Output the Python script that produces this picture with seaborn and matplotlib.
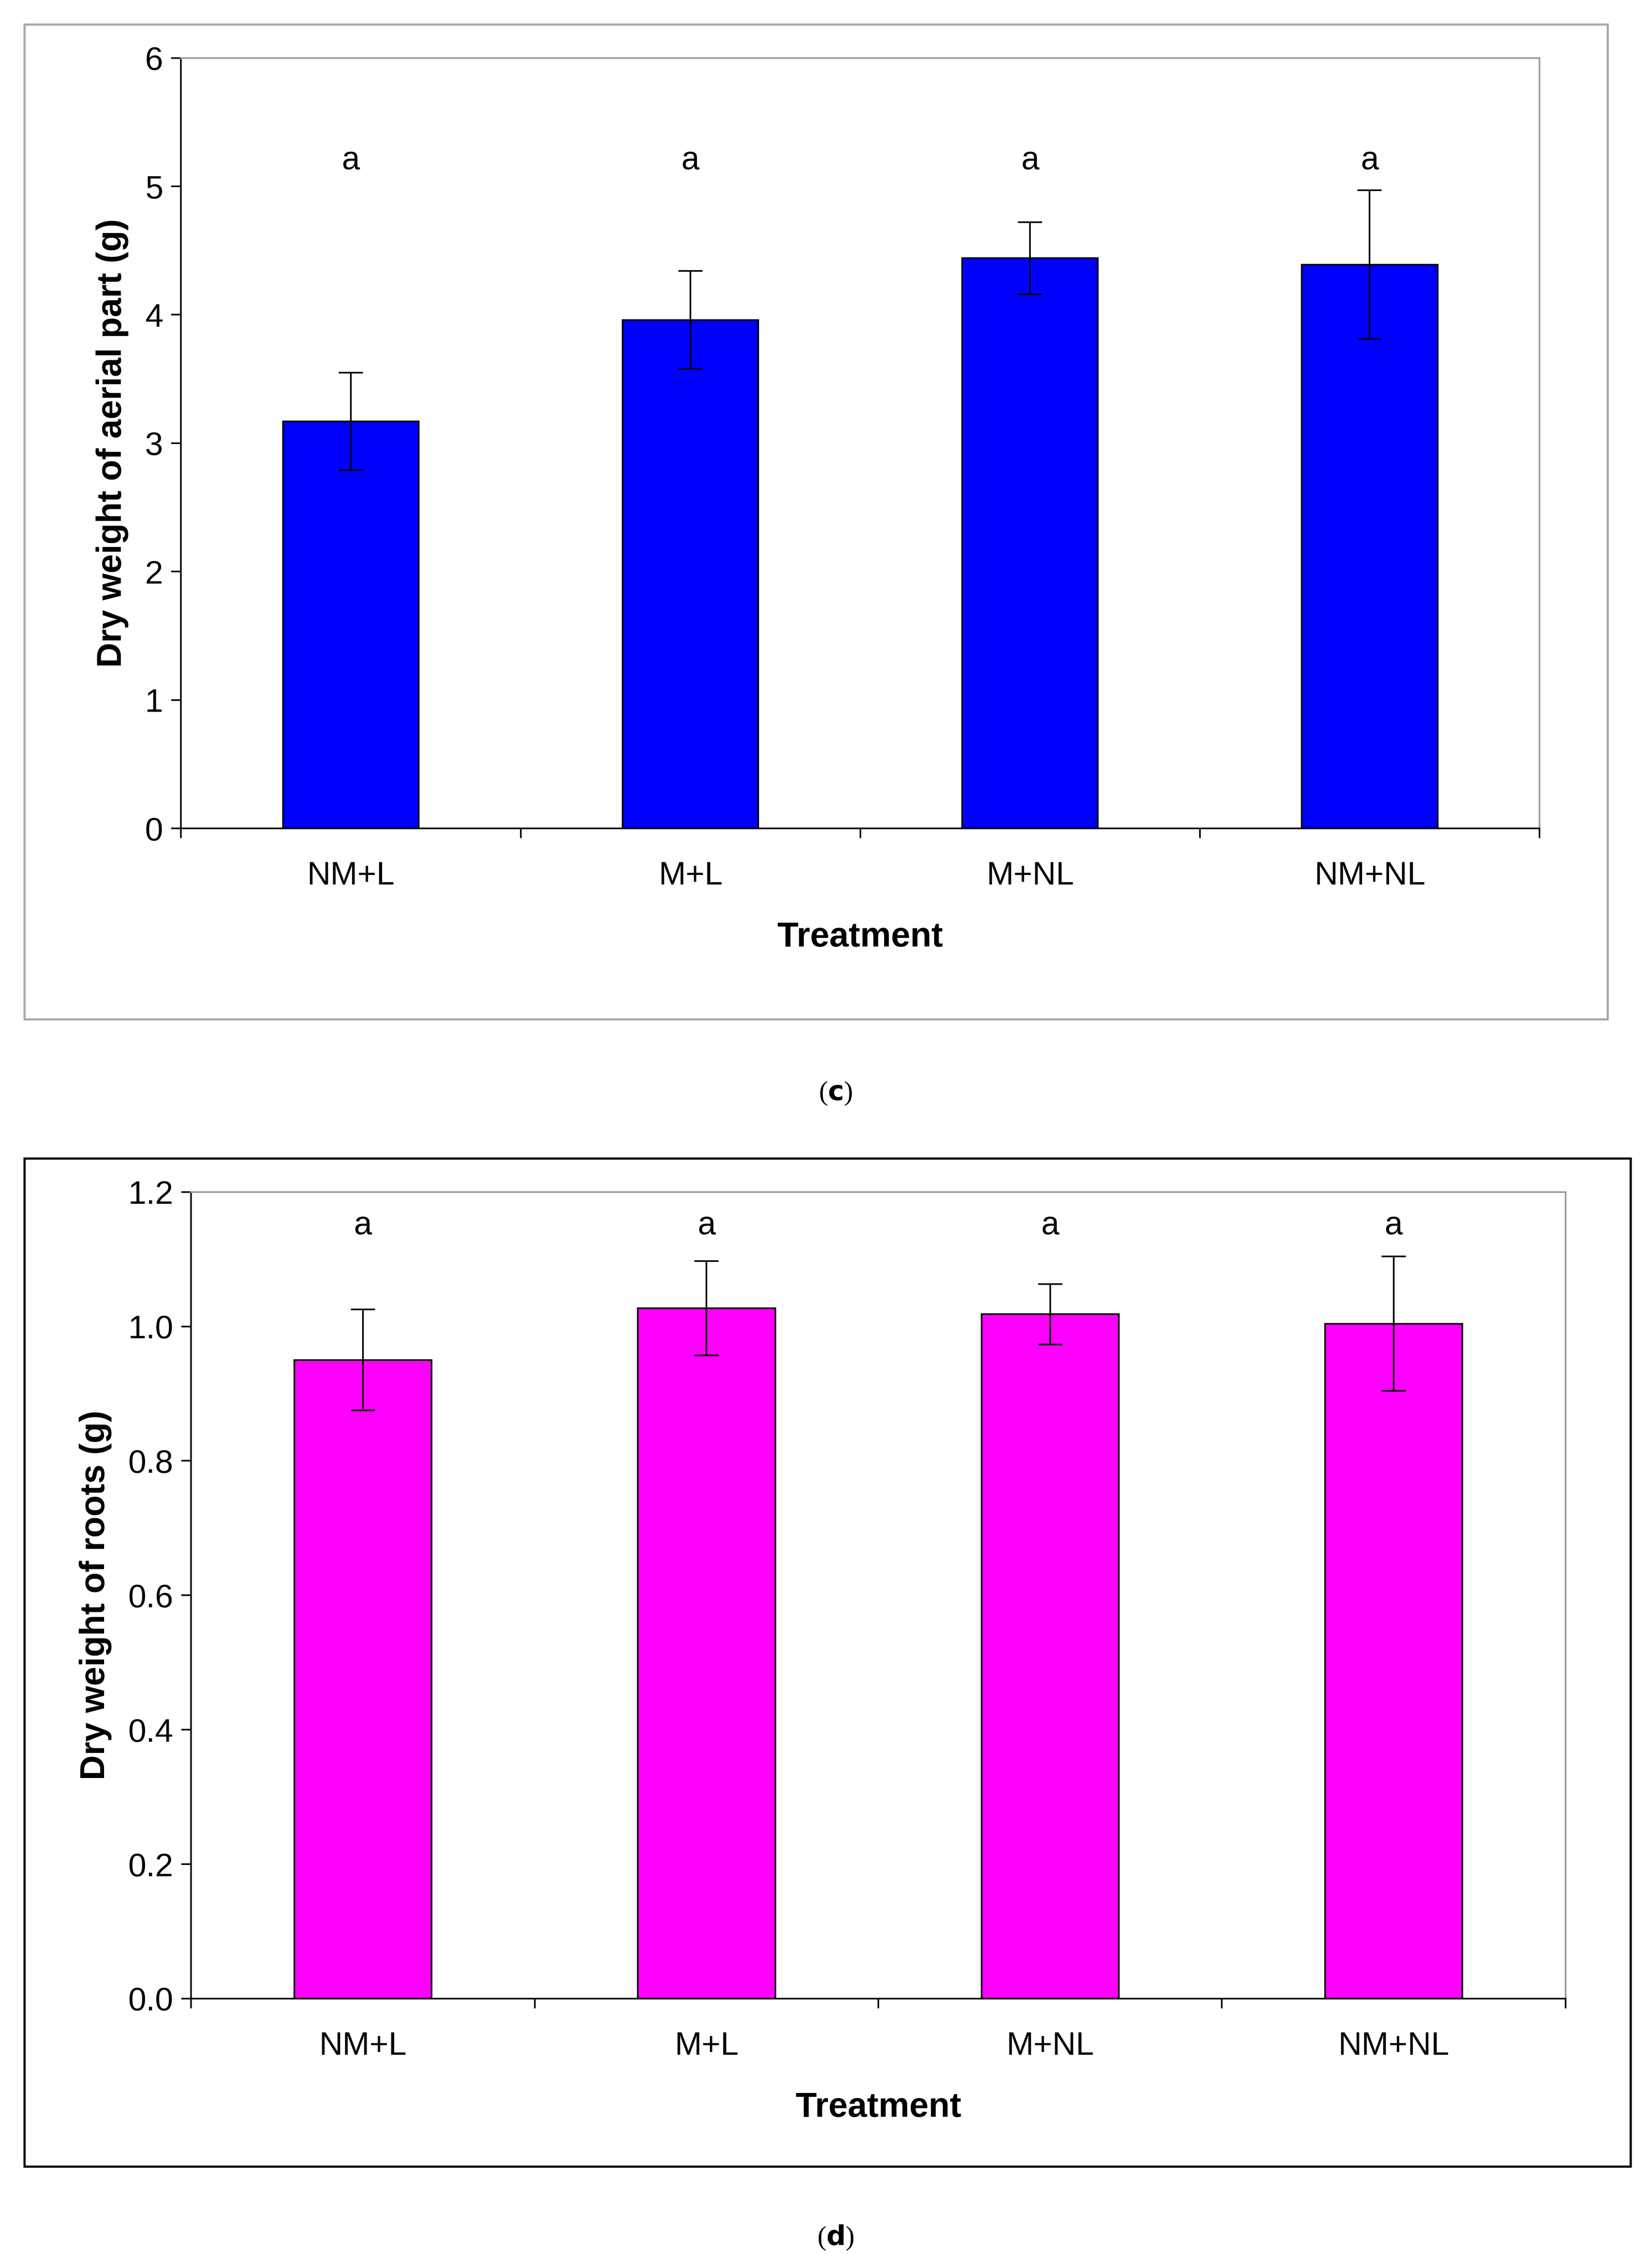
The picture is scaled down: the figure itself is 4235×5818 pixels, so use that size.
import matplotlib
matplotlib.use("Agg")
import matplotlib.pyplot as plt
from matplotlib.patches import Rectangle
import seaborn as sns
import pandas as pd
import numpy as np

treatments = ["NM+L", "M+L", "M+NL", "NM+NL"]
aerial = [3.17, 3.96, 4.44, 4.39]
aerial_err = [0.38, 0.38, 0.28, 0.58]
roots = [0.95, 1.027, 1.018, 1.004]
roots_err = [0.075, 0.07, 0.045, 0.10]
letters = ["a", "a", "a", "a"]

plt.rcParams["font.family"] = "Liberation Sans"
W, H = 1140, 1566
fig = plt.figure(figsize=(42.35, 58.18), dpi=100)

def panel(rect_box, box_color, ax_rect, vals, errs, color, ylim, yticks, ylabel, fmt, ly, label, label_y):
    fig.patches.append(Rectangle((rect_box[0]/W, 1-rect_box[3]/H), (rect_box[2]-rect_box[0])/W,
                                 (rect_box[3]-rect_box[1])/H, transform=fig.transFigure,
                                 fill=False, edgecolor=box_color, linewidth=4))
    ax = fig.add_axes([ax_rect[0]/W, 1-ax_rect[3]/H, (ax_rect[2]-ax_rect[0])/W, (ax_rect[3]-ax_rect[1])/H])
    df = pd.DataFrame({"t": treatments, "v": vals})
    sns.barplot(data=df, x="t", y="v", ax=ax, color=color, width=0.4, saturation=1,
                edgecolor="black", linewidth=3)
    ax.errorbar(range(4), vals, yerr=errs, fmt="none", ecolor="black", elinewidth=3, capsize=22, capthick=3)
    for i, l in enumerate(letters):
        ax.text(i, ly, l, ha="center", va="center", fontsize=60)
    ax.set_xlim(-0.5, 3.5)
    ax.set_ylim(*ylim)
    ax.set_yticks(yticks)
    ax.set_yticklabels([fmt.format(v) for v in yticks], fontsize=60)
    ax.set_xticks(range(4))
    ax.set_xticklabels(treatments, fontsize=60)
    ax.set_xticks(np.arange(-0.5, 4, 1), minor=True)
    ax.tick_params(axis="x", which="major", length=0, pad=60)
    ax.tick_params(axis="x", which="minor", length=18, width=3, direction="out")
    ax.tick_params(axis="y", length=18, width=3, pad=15)
    for s in ["top", "right"]:
        ax.spines[s].set_color("#999999"); ax.spines[s].set_linewidth(3)
    for s in ["left", "bottom"]:
        ax.spines[s].set_color("black"); ax.spines[s].set_linewidth(3)
    ax.set_xlabel("Treatment", fontsize=64, fontweight="bold", labelpad=55)
    ax.set_ylabel(ylabel, fontsize=64, fontweight="bold", labelpad=30)
    fig.text(577/W, 1-label_y/H, label, ha="center", va="center", fontsize=50, family="Liberation Serif")
    return ax

panel((17, 17, 1110, 704), "#aaaaaa", (125, 40, 1063, 572), aerial, aerial_err, "#0000ff",
      (0, 6), [0, 1, 2, 3, 4, 5, 6], "Dry weight of aerial part (g)", "{:.0f}", 5.2,
      "(c)", 755)
fig.texts[-1].set_text("(c)")
panel((17, 800, 1126, 1496), "black", (132, 823, 1081, 1380), roots, roots_err, "#ff00ff",
      (0, 1.2), [0, 0.2, 0.4, 0.6, 0.8, 1.0, 1.2], "Dry weight of roots (g)", "{:.1f}", 1.15,
      "(d)", 1545)
for t in fig.texts:
    if t.get_text() in ("(c)", "(d)"):
        t.set_text("(" + r"$\bf{" + t.get_text()[1] + "}$" + ")")
fig.savefig("out.png", dpi=100, facecolor="white")
